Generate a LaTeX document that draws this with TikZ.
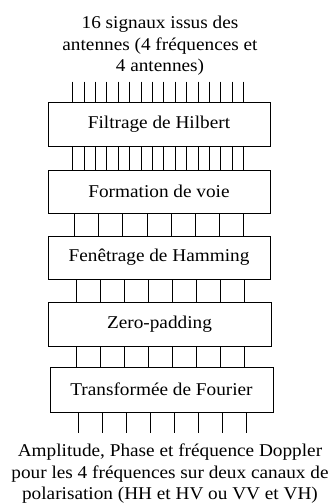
\documentclass[tikz,border=0pt]{standalone}
\usepackage{fontspec}
\setmainfont[FakeStretch=1.07]{Liberation Serif}
\usetikzlibrary{calc}
\tikzset{
  stage/.style={draw, line width=0.8pt, minimum width=222pt, minimum height=44pt, inner sep=0pt, font=\fontsize{18}{21}\selectfont},
  wire/.style={line width=0.8pt},
  caption/.style={align=center, font=\fontsize{18}{21.5}\selectfont, inner sep=0pt}
}
\begin{document}
\begin{tikzpicture}[x=1pt,y=1pt]
\useasboundingbox (0,0) rectangle (329,-503);
\node[caption] (top) at (160,-46) {16 signaux issus des\\antennes (4 fréquences et\\4 antennes)};
\node[stage] (b1) at (159,-124) {Filtrage de Hilbert};
\node[stage, minimum height=43pt] (b2) at (159,-191.5) {Formation de voie};
\node[stage, minimum height=43pt] (b3) at (159,-257.5) {Fenêtrage de Hamming};
\node[stage, minimum width=223pt] (b4) at (159.5,-324) {Zero-padding};
\node[stage, minimum width=223pt, minimum height=45pt] (b5) at (161.5,-389.5) {Transformée de Fourier};
\node[caption] (bot) at (170,-474) {Amplitude, Phase et fréquence Doppler\\pour les 4 fréquences sur deux canaux de\\polarisation (HH et HV ou VV et VH)};
\foreach \i in {0,...,15}{
  \coordinate (in\i) at ($(b1.north west)+(25+\i*11.4,20)$);
  \draw[wire] (in\i) -- ($(b1.north west)+(25+\i*11.4,0)$);
  \draw[wire] ($(b1.south west)+(25+\i*11.4,0)$) -- ($(b2.north west)+(25+\i*11.4,0)$);
}
\foreach \i in {0,...,7}{
  \draw[wire] ($(b2.south west)+(27+\i*24.1,0)$) -- ($(b3.north west)+(27+\i*24.1,0)$);
  \draw[wire] ($(b3.south west)+(29+\i*24,0)$) -- ($(b4.north west)+(29+\i*24,0)$);
  \draw[wire] ($(b4.south west)+(29+\i*24,0)$) -- ($(b5.north west)+(27+\i*24,0)$);
  \coordinate (out\i) at ($(b5.south west)+(29+\i*24,-21)$);
  \draw[wire] ($(b5.south west)+(29+\i*24,0)$) -- (out\i);
}
\end{tikzpicture}
\end{document}
